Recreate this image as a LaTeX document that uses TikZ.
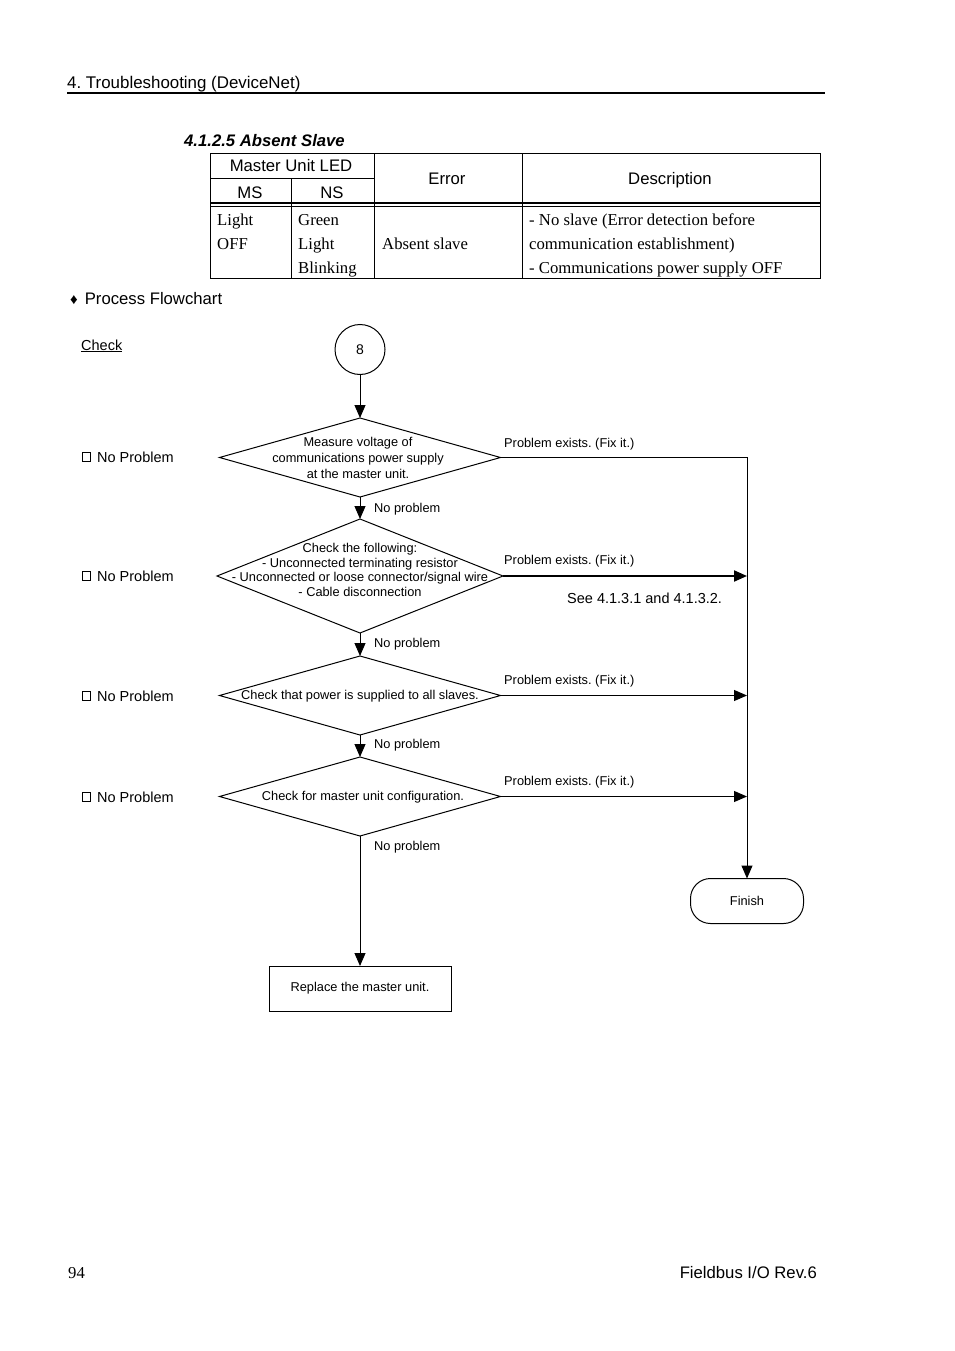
\documentclass[tikz,border=0pt]{standalone}
\usepackage{fontspec}
\setmainfont{Liberation Serif}
\setsansfont{Liberation Sans}
\usetikzlibrary{shapes.geometric,arrows.meta}
\tikzset{
  big/.style={font=\sffamily\fontsize{16.7}{20}\selectfont, inner sep=0},
  ttl/.style={font=\sffamily\bfseries\itshape\fontsize{16.7}{20}\selectfont, inner sep=0},
  ser/.style={font=\rmfamily\fontsize{16.7}{20}\selectfont, inner sep=0, anchor=base west},
  small/.style={font=\sffamily\fontsize{12.8}{15}\selectfont, inner sep=0},
  mid/.style={font=\sffamily\fontsize{14.5}{17}\selectfont, inner sep=0},
  dia/.style={draw, diamond, inner sep=0, outer sep=0, line width=1pt},
  arr/.style={-{Triangle[length=13pt,width=11pt]}, line width=1pt},
  ln/.style={line width=1pt},
  chk/.style={draw, line width=1pt, minimum size=8.5, inner sep=0, outer sep=0},
  lbl/.style={small, anchor=base west},
}
\begin{document}
\frenchspacing
\begin{tikzpicture}[x=1pt,y=-1pt]
\useasboundingbox[fill=white] (0,0) rectangle (954,1351);

% header
\node[big, anchor=base west, font=\sffamily\fontsize{16.9}{20}\selectfont] (hdr) at (67,89) {4. Troubleshooting (DeviceNet)};
\draw[line width=2pt] (67,93) -- (825,93);

% title
\node[ttl, anchor=base west] (title) at (184,147) {4.1.2.5 Absent Slave};

% table
\draw[ln] (210,153.5) rectangle (820,278);
\draw[ln] (210,179) -- (374,179);
\draw[ln] (291,179) -- (291,278);
\draw[ln] (374,153.5) -- (374,278);
\draw[ln] (522,153.5) -- (522,278);
\draw[ln] (210,203) -- (820,203);
\draw[ln] (210,206) -- (820,206);

\node[big, anchor=base] (th1) at (291,172) {Master Unit LED};
\node[big, anchor=base] (th2) at (250,198) {MS};
\node[big, anchor=base] (th3) at (332,198) {NS};
\node[big, anchor=base] (th4) at (447,185) {Error};
\node[big, anchor=base] (th5) at (670,185) {Description};

\node[ser] (b1) at (217,225) {Light};
\node[ser] (b2) at (217,249) {OFF};
\node[ser] (b3) at (298,225) {Green};
\node[ser] (b4) at (298,249) {Light};
\node[ser] (b5) at (298,273) {Blinking};
\node[ser] (b6) at (382,249) {Absent slave};
\node[ser] (b7) at (529,225) {- No slave (Error detection before};
\node[ser] (b8) at (529,249) {communication establishment)};
\node[ser] (b9) at (529,273) {- Communications power supply OFF};

% process flowchart
\node[big, anchor=base west] (pf) at (70,304) {{\fontsize{15}{15}\selectfont ♦}\hspace{7pt}Process Flowchart};
\node[mid, anchor=base west] (chk) at (81,350) {\underline{Check}};

% flowchart nodes
\node[draw, circle, ln, minimum size=50, inner sep=0, outer sep=0, font=\sffamily\fontsize{14}{16}\selectfont] (c8) at (360,349.5) {8};

\node[dia, minimum width=281, minimum height=79] (d1) at (360,457.5) {};
\node[small, align=center, font=\sffamily\fontsize{12.8}{16}\selectfont] (t1) at (358,458) {Measure voltage of\\communications power supply\\at the master unit.};

\node[dia, minimum width=286, minimum height=114] (d2) at (360,576) {};
\node[small, align=center, font=\sffamily\fontsize{12.8}{14.7}\selectfont] (t2) at (360,570) {Check the following:\\- Unconnected terminating resistor\\- Unconnected or loose connector/signal wire\\- Cable disconnection};

\node[dia, minimum width=281, minimum height=79] (d3) at (360,695.5) {};
\node[small] (t3) at (360,696.5) {Check that power is supplied to all slaves.};

\node[dia, minimum width=281, minimum height=79] (d4) at (360,796.5) {};
\node[small] (t4) at (363,797) {Check for master unit configuration.};

\node[draw, ln, minimum width=182, minimum height=45, small, outer sep=0] (rep) at (360,988.5) {Replace the master unit.};
\node[draw, ln, rounded corners=20, minimum width=113, minimum height=45, small, outer sep=0] (fin) at (747,901) {Finish};

% connectors
\draw[arr] (c8.south) -- (d1.north);
\draw[arr] (d1.south) -- (d2.north);
\draw[arr] (d2.south) -- (d3.north);
\draw[arr] (d3.south) -- (d4.north);
\draw[arr] (d4.south) -- (rep.north);
\draw[arr] (d1.east) -| (fin.north);
\draw[arr, line width=2pt] (d2.east) -- (d2.east -| fin.north);
\draw[arr] (d3.east) -- (d3.east -| fin.north);
\draw[arr] (d4.east) -- (d4.east -| fin.north);

% labels
\node[lbl] (pe1) at (504,447) {Problem exists. (Fix it.)};
\node[lbl] (pe2) at (504,564) {Problem exists. (Fix it.)};
\node[lbl] (pe3) at (504,684) {Problem exists. (Fix it.)};
\node[lbl] (pe4) at (504,785) {Problem exists. (Fix it.)};
\node[lbl] (np1) at (374,512) {No problem};
\node[lbl] (np2) at (374,647) {No problem};
\node[lbl] (np3) at (374,748) {No problem};
\node[lbl] (np4) at (374,850) {No problem};
\node[mid, anchor=base west] (see) at (567,603) {See 4.1.3.1 and 4.1.3.2.};

% check column
\node[chk] (cb1) at (86.5,457) {};
\node[mid, anchor=base west] (ok1) at (97,462) {No Problem};
\node[chk] (cb2) at (86.5,576) {};
\node[mid, anchor=base west] (ok2) at (97,581) {No Problem};
\node[chk] (cb3) at (86.5,696) {};
\node[mid, anchor=base west] (ok3) at (97,701) {No Problem};
\node[chk] (cb4) at (86.5,797) {};
\node[mid, anchor=base west] (ok4) at (97,802) {No Problem};

% footer
\node[ser] (pg) at (68,1278) {94};
\node[big, anchor=base east] (ft) at (817,1278) {Fieldbus I/O Rev.6};
\end{tikzpicture}
\end{document}
